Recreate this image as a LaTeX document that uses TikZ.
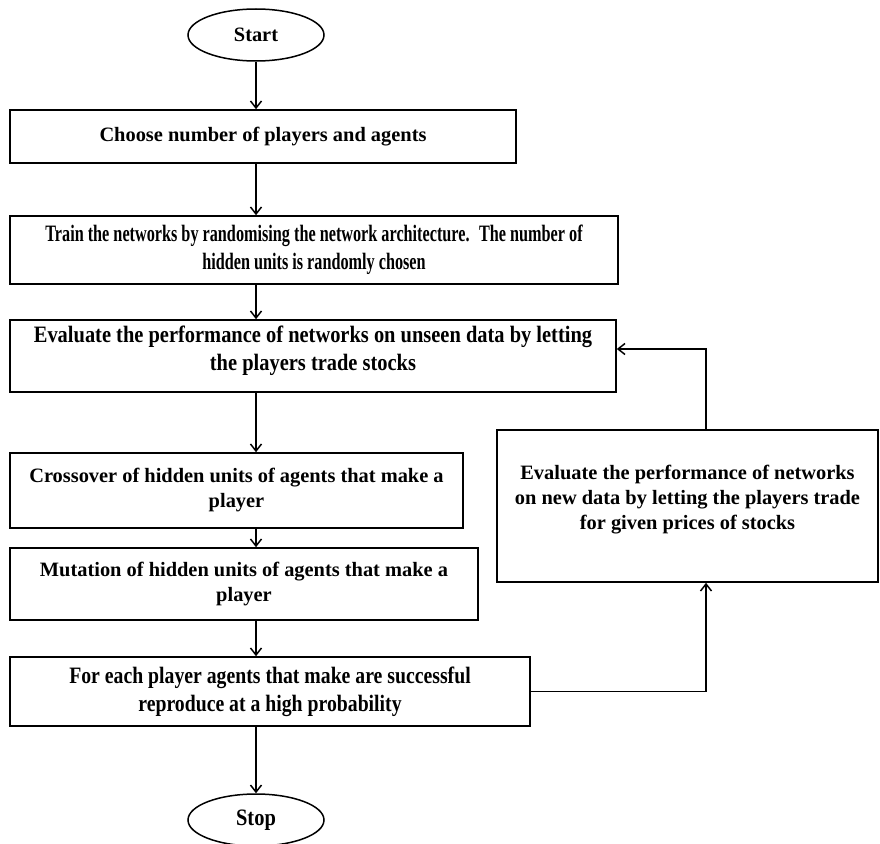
\documentclass[tikz,border=0pt]{standalone}
\usepackage{fontspec}
\setmainfont{Liberation Serif}
\newfontfamily\condfont[FakeStretch=0.87]{Liberation Serif}
\newfontfamily\tightfont[FakeStretch=0.84]{Liberation Serif}
\newfontfamily\narrowfont[FakeStretch=0.69]{Liberation Serif}
\usetikzlibrary{shapes.geometric,arrows.meta}

\begin{document}
\begin{tikzpicture}[x=1pt,y=-1pt,
  font=\bfseries\fontsize{20.4}{25}\selectfont,
  box/.style={draw,line width=1.6pt,rectangle,align=center,inner sep=0pt},
  term/.style={draw,line width=1.5pt,ellipse,minimum width=136,minimum height=52,inner sep=0pt},
  cond/.style={font=\condfont\bfseries\fontsize{23.5}{28}\selectfont},
  arr/.style={line width=1.5pt,-{Straight Barb[length=7pt,width=11pt]}}]
  \useasboundingbox (0,0) rectangle (880,843);
  \node[term] (start) at (256,35) {Start};
  \node[box,minimum width=506,minimum height=53] (b1) at (263,136.5) {Choose number of players and agents};
  \node[box,minimum width=608,minimum height=68,font=\narrowfont\bfseries\fontsize{23.5}{28}\selectfont] (b2) at (314,250)
    {Train the networks by randomising the network architecture.~ The number of\\hidden units is randomly chosen};
  \node[box,cond,minimum width=606,minimum height=72] (b3) at (313,356)
    {Evaluate the performance of networks on unseen data by letting\\the players trade stocks\\[-12pt]\mbox{}};
  \node[box,minimum width=453,minimum height=75] (b4) at (236.5,490.5)
    {Crossover of hidden units of agents that make a\\player};
  \node[box,minimum width=468,minimum height=72] (b5) at (244,584)
    {Mutation of hidden units of agents that make a\\player};
  \node[box,minimum width=520,minimum height=69,font=\tightfont\bfseries\fontsize{23.5}{28}\selectfont] (b6) at (270,691.5)
    {For each player agents that make are successful\\reproduce at a high probability};
  \node[box,minimum width=381,minimum height=152] (rbox) at (687.5,506)
    {Evaluate the performance of networks\\on new data by letting the players trade\\for given prices of stocks\\[-8pt]\mbox{}};
  \node[term,font=\condfont\bfseries\fontsize{23.5}{28}\selectfont] (stop) at (256,820) {Stop};
  \coordinate (loop) at (706,0);
  \draw[arr] (start.south) -- (start |- b1.north);
  \draw[arr] (start |- b1.south) -- (start |- b2.north);
  \draw[arr] (start |- b2.south) -- (start |- b3.north);
  \draw[arr] (start |- b3.south) -- (start |- b4.north);
  \draw[arr] (start |- b4.south) -- (start |- b5.north);
  \draw[arr] (start |- b5.south) -- (start |- b6.north);
  \draw[arr] (start |- b6.south) -- (stop.north);
  \draw[arr] (b6.east) -| (loop |- rbox.south);
  \draw[arr] (loop |- rbox.north) |- ([yshift=7pt]b3.east);
\end{tikzpicture}
\end{document}
